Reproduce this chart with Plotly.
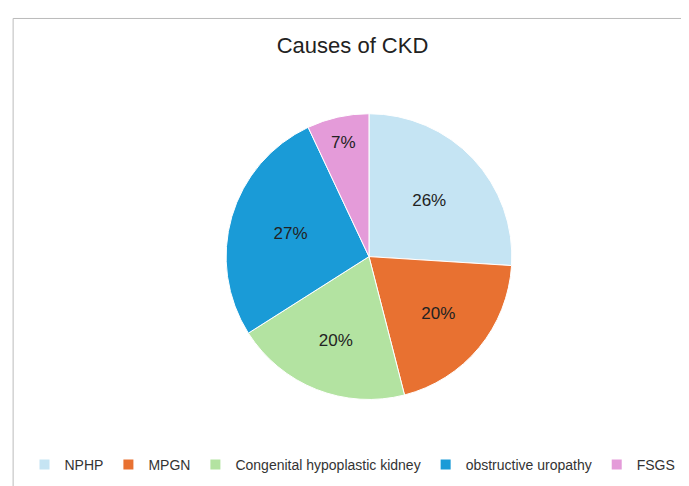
import plotly.graph_objects as go

causes = ["NPHP", "MPGN", "Congenital hypoplastic kidney", "obstructive uropathy", "FSGS"]
shares = [26, 20, 20, 27, 7]
colors = ["#c5e4f3", "#e87131", "#b3e3a1", "#1a9bd7", "#e49bd9"]

fig = go.Figure()
fig.add_trace(go.Pie(
    labels=causes, values=shares, sort=False, direction="clockwise", rotation=0,
    marker=dict(colors=colors, line=dict(color="white", width=1)),
    textinfo="percent", texttemplate="%{percent:.0%}", textposition="inside",
    insidetextorientation="horizontal",
    textfont=dict(size=17, color="#222222"),
    domain=dict(x=[0.15, 0.9], y=[0.13, 0.88]),
))

fig.update_layout(
    width=689, height=486,
    paper_bgcolor="white",
    font=dict(family="Liberation Sans, Arial", color="#333333"),
    title=dict(text="Causes of CKD", x=0.5, y=0.94, xanchor="center",
               font=dict(size=22, color="#222222")),
    legend=dict(orientation="h", x=0.5, xanchor="center", y=0.0, yanchor="top",
                font=dict(size=14, color="#333333"), traceorder="normal",
                itemwidth=30, entrywidthmode="pixels", itemsizing="constant"),
    margin=dict(l=15, r=15, t=60, b=45),
    shapes=[dict(type="rect", xref="paper", yref="paper", x0=-0.015, x1=1.015,
                 y0=-0.11, y1=1.13, line=dict(color="#bbbbbb", width=1))],
)

fig.write_html("out.html")
